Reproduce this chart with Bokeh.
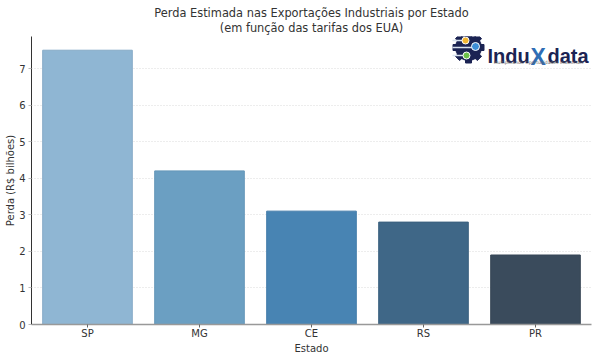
import math
from bokeh.plotting import figure
from bokeh.models import ColumnDataSource, Range1d, FixedTicker, Title
from bokeh.core.properties import value
from bokeh.embed import file_html
from bokeh.resources import INLINE

# ---- data ----
states = ["SP", "MG", "CE", "RS", "PR"]
losses = [7.5, 4.2, 3.1, 2.8, 1.9]
bar_colors = ["#8fb6d3", "#6b9fc2", "#4884b3", "#3f6787", "#3a4b5c"]
edge_colors = ["#86abc7", "#6597b8", "#437ca9", "#3b617f", "#374756"]
y_ticks = [0, 1, 2, 3, 4, 5, 6, 7]
y_max = 7.875

title_line1 = "Perda Estimada nas Exportações Industriais por Estado"
title_line2 = "(em função das tarifas dos EUA)"
x_label = "Estado"
y_label = "Perda (R$ bilhões)"
logo_a, logo_x, logo_b = "Indu", "X", "data"
logo_sub = "Multiplicando Oportunidades Industriais"

FONT = "DejaVu Sans"
W, H = 600, 360

source = ColumnDataSource(dict(state=states, loss=losses, color=bar_colors, edge=edge_colors))

p = figure(width=W, height=H, x_range=states, y_range=Range1d(0, y_max),
           output_backend="svg", toolbar_location=None,
           min_border_left=31, min_border_right=9, min_border_top=36, min_border_bottom=36)
p.x_range.range_padding = 0

p.vbar(x="state", top="loss", width=0.8, source=source,
       fill_color="color", line_color="edge", line_width=1)

# titles (added bottom line first: later ones stack above)
p.add_layout(Title(text=title_line2, align="center", text_font=FONT, text_font_size="11.4px",
                   text_font_style="normal", text_color="#333333", standoff=4), "above")
p.add_layout(Title(text=title_line1, align="center", text_font=FONT, text_font_size="11.4px",
                   text_font_style="normal", text_color="#333333", standoff=-6), "above")

# axes
for ax in (p.xaxis[0], p.yaxis[0]):
    ax.axis_label_text_font = FONT
    ax.axis_label_text_font_size = "10px"
    ax.axis_label_text_font_style = "normal"
    ax.axis_label_text_color = "#333333"
    ax.major_label_text_font = FONT
    ax.major_label_text_font_size = "10px"
    ax.major_label_text_color = "#333333"
    ax.major_tick_in = 0
    ax.major_tick_out = 3
    ax.minor_tick_line_color = None

p.xaxis.major_label_standoff = 0
p.xaxis.axis_label_standoff = 1
p.yaxis.major_label_standoff = 3
p.yaxis.axis_label_standoff = 0

p.xaxis.axis_label = x_label
p.yaxis.axis_label = y_label
p.yaxis.ticker = FixedTicker(ticks=y_ticks)
p.yaxis.axis_line_color = "#333333"
p.yaxis.major_tick_line_color = "#bbbbbb"
p.xaxis.axis_line_color = "#999999"
p.xaxis.axis_line_width = 1.6
p.xaxis.major_tick_line_color = "#666666"

p.xgrid.grid_line_color = None
p.ygrid.grid_line_color = "#d2d2d2"
p.ygrid.grid_line_dash = "1 2"
p.ygrid.grid_line_width = 0.8
p.outline_line_color = None

# ---- logo (decoration, placed by pixel offsets inside the frame) ----
FX0, FX1, FY0, FY1 = 31, 591, 36, 324  # frame in page px
def px(x):  # page px -> synthetic x
    return (x - FX0) / (FX1 - FX0) * len(states)
def py(y):  # page px -> y data
    return (FY1 - y) / (FY1 - FY0) * y_max

navy = "#1b2353"
gcx, gcy = 468, 47
teeth_x, teeth_y, teeth_a = [], [], []
for k in range(8):
    a = k * math.pi / 4
    teeth_x.append(px(gcx + 12.5 * math.cos(a)))
    teeth_y.append(py(gcy - 12.5 * math.sin(a)))
    teeth_a.append(a)
p.scatter(teeth_x, teeth_y, marker="square", size=6, angle=teeth_a,
          fill_color=navy, line_color=navy)
p.scatter([px(gcx)], [py(gcy)], marker="circle", size=26, fill_color=navy, line_color=navy)
# circuit lines
for (yy, x0, x1) in [(40, 452, 464), (47, 452, 474), (55, 452, 465)]:
    p.line([px(x0), px(x1)], [py(yy), py(yy)], line_color="#d8e2f0", line_width=1.5)
p.scatter([px(465), px(475), px(466)], [py(40), py(46), py(55)], marker="circle",
          size=[7, 8, 7], fill_color=["#f2b632", "#3d8fd8", "#6cc04a"], line_color="white",
          line_width=1)

p.text([px(487)], [py(55)], text=[logo_a], text_font=value("Liberation Sans"),
       text_font_style="bold", text_font_size="20px", text_color=navy,
       text_baseline="alphabetic", text_align="left")
p.text([px(530)], [py(56)], text=[logo_x], text_font=value("Liberation Sans"),
       text_font_style="bold", text_font_size="23px", text_color="#2f6db5",
       text_baseline="alphabetic", text_align="left")
p.text([px(547)], [py(55)], text=[logo_b], text_font=value("Liberation Sans"),
       text_font_style="bold", text_font_size="20px", text_color=navy,
       text_baseline="alphabetic", text_align="left")
p.text([px(538)], [py(62)], text=[logo_sub], text_font=value("DejaVu Sans"),
       text_font_size="4.5px", text_color="#666666",
       text_baseline="alphabetic", text_align="center")

open("out.html", "w").write(file_html(p, INLINE))
